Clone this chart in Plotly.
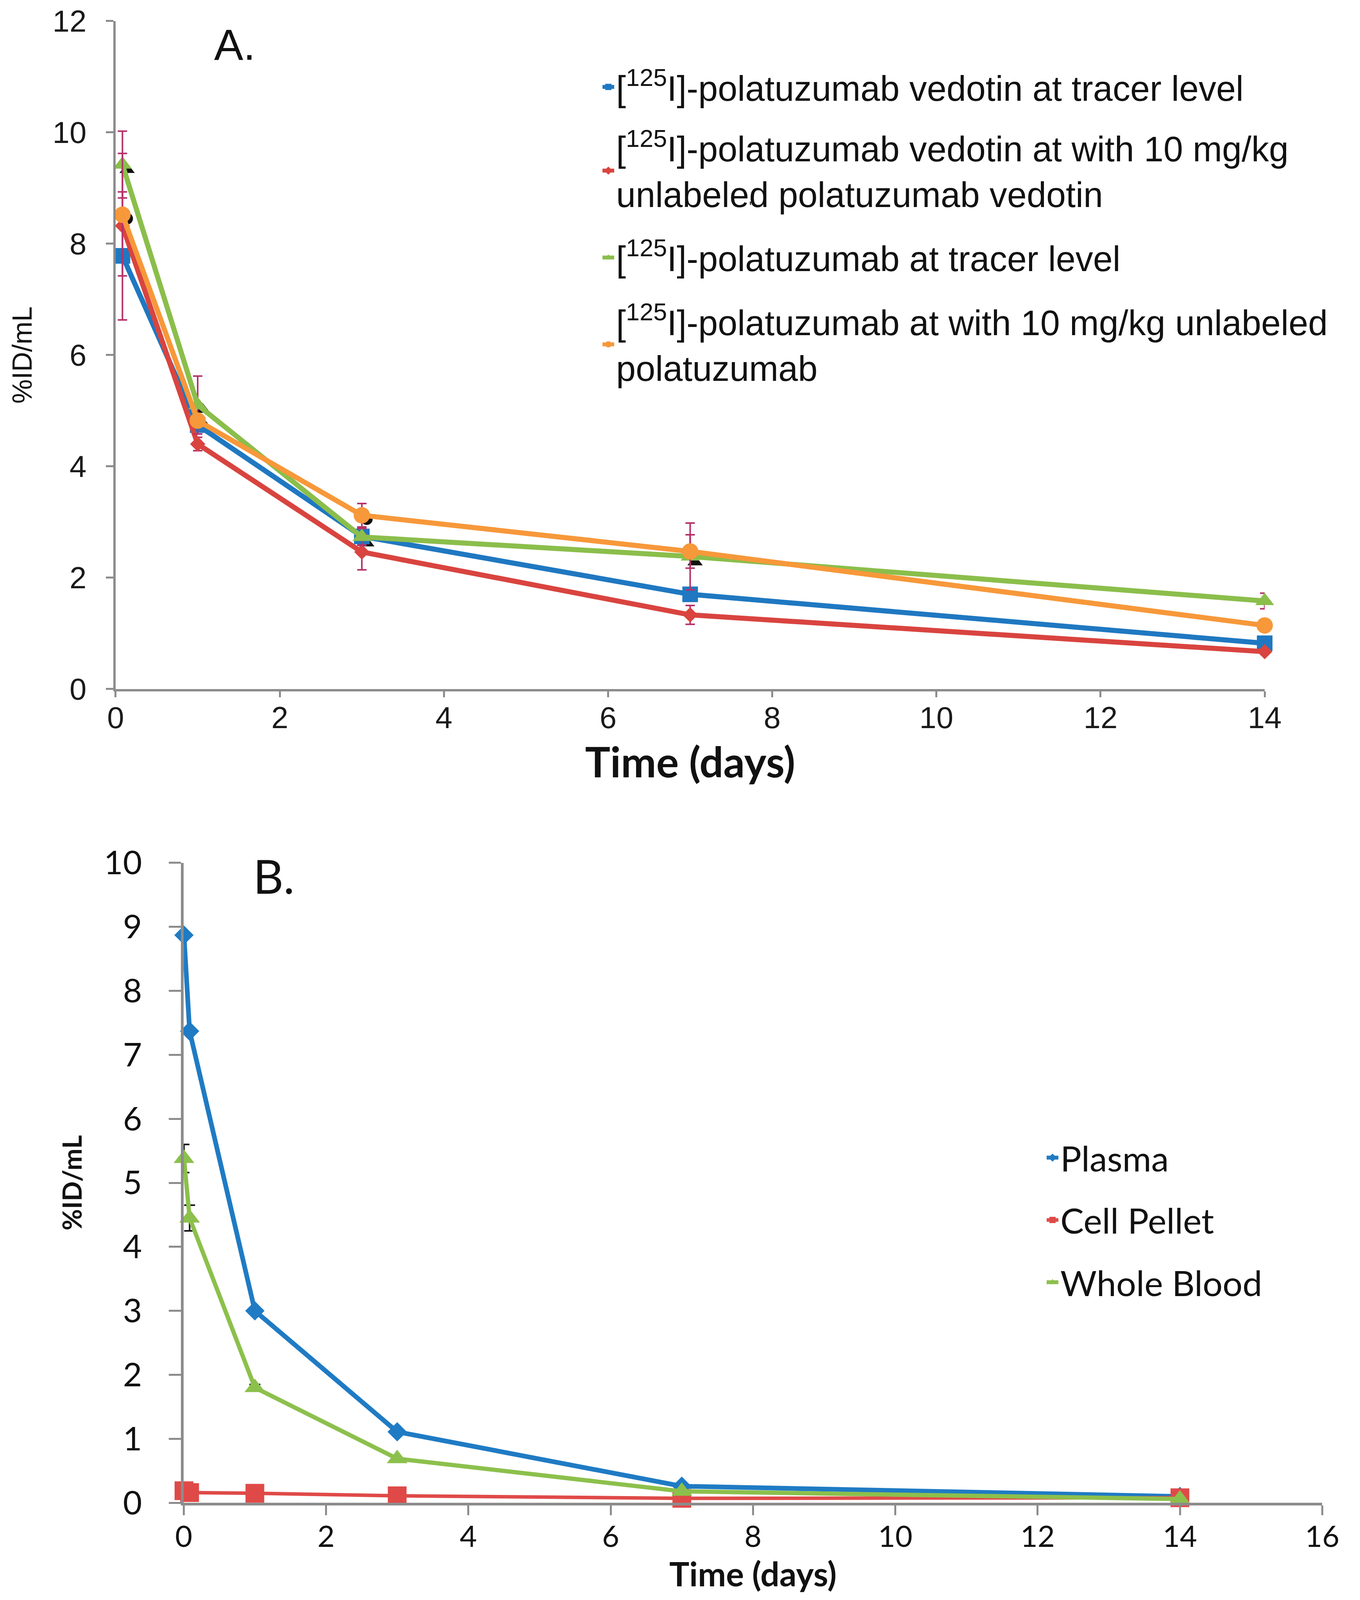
import plotly.graph_objects as go

# ---------------- Panel A data ----------------
time_a = [0.083, 1, 3, 7, 14]
adc_tracer = [7.78, 4.74, 2.74, 1.70, 0.82]
adc_tracer_err = [1.15, 0.10, 0.15, 0.10, 0.05]
adc_10 = [8.32, 4.40, 2.46, 1.33, 0.67]
adc_10_err = [0.0, 0.12, 0.32, 0.17, 0.05]
ab_tracer = [9.42, 5.10, 2.73, 2.38, 1.58]
ab_tracer_err = [0.60, 0.52, 0.15, 0.60, 0.14]
ab_10 = [8.52, 4.82, 3.12, 2.47, 1.14]
ab_10_err = [1.10, 0.10, 0.21, 0.30, 0.10]
shadow_tri_t = [0.14, 1.06, 3.06, 7.06, 14.06]
shadow_tri = [9.33, 5.02, 2.62, 2.28, 1.48]
shadow_dot_t = [0.14, 1.06, 3.06, 14.06]
shadow_dot = [8.45, 4.72, 3.05, 1.07]

names_a = [
    "[<sup>125</sup>I]-polatuzumab vedotin at tracer level",
    "[<sup>125</sup>I]-polatuzumab vedotin at with 10 mg/kg<br>unlabeled polatuzumab vedotin",
    "[<sup>125</sup>I]-polatuzumab at tracer level",
    "[<sup>125</sup>I]-polatuzumab at with 10 mg/kg unlabeled<br>polatuzumab",
]
xticks_a = [0, 2, 4, 6, 8, 10, 12, 14]
yticks_a = [0, 2, 4, 6, 8, 10, 12]

# ---------------- Panel B data ----------------
time_b = [0.0035, 0.083, 1, 3, 7, 14]
plasma = [8.87, 7.37, 3.00, 1.11, 0.26, 0.10]
cell_pellet = [0.19, 0.16, 0.15, 0.11, 0.07, 0.08]
whole_blood = [5.38, 4.45, 1.80, 0.69, 0.18, 0.06]
whole_blood_err = [0.22, 0.20, 0.05, 0.0, 0.0, 0.0]
names_b = ["Plasma", "Cell Pellet", "Whole Blood"]
xticks_b = [0, 2, 4, 6, 8, 10, 12, 14, 16]
yticks_b = [0, 1, 2, 3, 4, 5, 6, 7, 8, 9, 10]

# ---------------- styles ----------------
BLUE, RED, GREEN, ORANGE = "#1F78C1", "#D9443F", "#8BBE4B", "#F7983A"
BLUE_B, RED_B, GREEN_B = "#1F7BC4", "#DF4A48", "#8CC04C"
ERR = "#B5316A"
AX = "#8C8C8C"
ARIAL = "Liberation Sans, Arial, sans-serif"
CAL = "Lato, Calibri, sans-serif"

fig = go.Figure()

def err(vals):
    return dict(type="data", array=vals, visible=True, color=ERR, thickness=4, width=12)

fig.add_trace(go.Scatter(x=shadow_tri_t, y=shadow_tri, mode="markers",
                         marker=dict(symbol="triangle-up", size=34, color="#111111"),
                         showlegend=False, cliponaxis=False, xaxis="x", yaxis="y", hoverinfo="skip"))
fig.add_trace(go.Scatter(x=shadow_dot_t, y=shadow_dot, mode="markers",
                         marker=dict(symbol="circle", size=30, color="#111111"),
                         showlegend=False, cliponaxis=False, xaxis="x", yaxis="y", hoverinfo="skip"))

series_a = [
    (adc_tracer, adc_tracer_err, BLUE, "square", 40, "legend"),
    (adc_10, adc_10_err, RED, "diamond", 30, "legend2"),
    (ab_tracer, ab_tracer_err, GREEN, "triangle-up", 42, "legend3"),
    (ab_10, ab_10_err, ORANGE, "circle", 42, "legend4"),
]
for (vals, e, col, sym, sz, lg), nm in zip(series_a, names_a):
    fig.add_trace(go.Scatter(
        x=time_a, y=vals, name=nm, mode="lines+markers",
        line=dict(color=col, width=13),
        marker=dict(symbol=sym, size=sz, color=col),
        error_y=err(e), cliponaxis=False, legend=lg,
        xaxis="x", yaxis="y"))

series_b = [
    (plasma, None, BLUE_B, "diamond", 38, 12, "legend5"),
    (cell_pellet, None, RED_B, "square", 48, 9, "legend6"),
    (whole_blood, whole_blood_err, GREEN_B, "triangle-up", 46, 11, "legend7"),
]
for (vals, e, col, sym, sz, lw, lg), nm in zip(series_b, names_b):
    kw = {}
    if e is not None:
        kw["error_y"] = dict(type="data", array=e, visible=True, color="#111111", thickness=4, width=14)
    fig.add_trace(go.Scatter(
        x=time_b, y=vals, name=nm, mode="lines+markers",
        line=dict(color=col, width=lw),
        marker=dict(symbol=sym, size=sz, color=col),
        cliponaxis=False, legend=lg, xaxis="x2", yaxis="y2", **kw))

axis_common = dict(showgrid=False, zeroline=False, showline=True, linecolor=AX,
                   ticks="outside", tickcolor=AX, tickwidth=5, fixedrange=True,
                   automargin=False)

fig.update_layout(
    margin=dict(l=0, r=0, t=0, b=0, autoexpand=False),
    paper_bgcolor="white", plot_bgcolor="white",
    xaxis=dict(domain=[0.0831, 0.9319], range=[0, 14], tickvals=xticks_a,
               linewidth=6, ticklen=15, ticklabelstandoff=-14,
               tickfont=dict(family=ARIAL, size=78, color="#1a1a1a"),
               title=dict(text="<b>Time (days)</b>", font=dict(family=CAL, size=108, color="#111111"),
                          standoff=36),
               anchor="y", **axis_common),
    yaxis=dict(domain=[0.5697, 0.9888], range=[0, 12], tickvals=yticks_a,
               linewidth=6, ticklen=19, ticklabelstandoff=34,
               tickfont=dict(family=ARIAL, size=78, color="#1a1a1a"),
               title=dict(text="%ID/mL", font=dict(family=ARIAL, size=70, color="#111111"),
                          standoff=32),
               anchor="x", **axis_common),
    xaxis2=dict(domain=[0.1334, 0.9744], range=[0, 16], tickvals=xticks_b,
                linewidth=7, ticklen=25, ticklabelstandoff=-10,
                tickfont=dict(family=CAL, size=76, color="#111111"),
                title=dict(text="<b>Time (days)</b>", font=dict(family=CAL, size=86, color="#111111"),
                           standoff=14),
                anchor="y2", **axis_common),
    yaxis2=dict(domain=[0.0590, 0.4606], range=[0, 10], tickvals=yticks_b,
                linewidth=7, ticklen=31, ticklabelstandoff=52,
                tickfont=dict(family=CAL, size=84, color="#111111"),
                title=dict(text="<b>%ID/mL</b>", font=dict(family=CAL, size=67, color="#111111"),
                           standoff=37),
                anchor="x2", **axis_common),
    annotations=[
        dict(text="A.", x=0.1712, y=0.9740, xref="paper", yref="paper",
             xanchor="center", yanchor="middle",
             showarrow=False, font=dict(family=ARIAL, size=112, color="#111111")),
        dict(text="B.", x=0.2000, y=0.4524, xref="paper", yref="paper",
             xanchor="center", yanchor="middle",
             showarrow=False, font=dict(family=CAL, size=120, color="#111111")),
        dict(text="'", x=0.5522, y=0.8720, xref="paper", yref="paper",
             xanchor="center", yanchor="middle",
             showarrow=False, font=dict(family=ARIAL, size=40, color="#333333")),
    ],
)

leg_common = dict(xanchor="left", yanchor="middle", bgcolor="rgba(0,0,0,0)",
                  borderwidth=0, itemclick=False, itemdoubleclick=False)
leg_a_font = dict(family=ARIAL, size=90, color="#111111")
leg_b_font = dict(family=CAL, size=90, color="#111111")
fig.update_layout(
    legend=dict(x=0.4413, y=0.9474, font=leg_a_font, **leg_common),
    legend2=dict(x=0.4413, y=0.8949, font=leg_a_font, **leg_common),
    legend3=dict(x=0.4413, y=0.8404, font=leg_a_font, **leg_common),
    legend4=dict(x=0.4413, y=0.7859, font=leg_a_font, **leg_common),
    legend5=dict(x=0.7694, y=0.2756, font=leg_b_font, **leg_common),
    legend6=dict(x=0.7694, y=0.2365, font=leg_b_font, **leg_common),
    legend7=dict(x=0.7694, y=0.1974, font=leg_b_font, **leg_common),
)

fig.write_html("out.html")
